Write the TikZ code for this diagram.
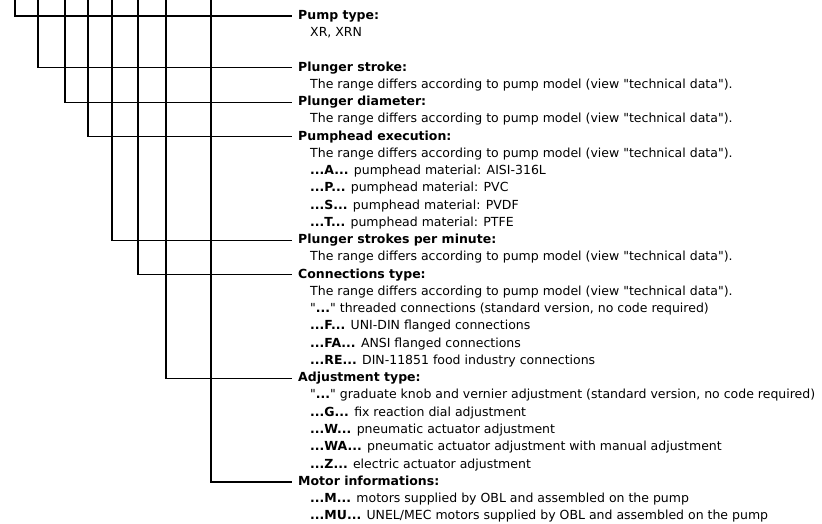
\documentclass[tikz,border=0pt]{standalone}
\usepackage{fontspec}
\setmainfont{DejaVu Sans}[Ligatures=TeXOff]
\newcommand{\rowy}[1]{16+17.26*#1}
\begin{document}
\begin{tikzpicture}[x=1pt,y=-1pt,
  hdr/.style={anchor=west, inner xsep=6pt, inner ysep=0pt, font=\fontsize{12.5}{15}\selectfont\bfseries, text height=9pt, text depth=2.5pt},
  sub/.style={anchor=west, inner sep=0pt, font=\fontsize{12.5}{15}\selectfont, text height=9pt, text depth=2.5pt},
  conn/.style={line width=1.1pt, black}]
\useasboundingbox (0,0) rectangle (822,523);
% headers
\node[hdr] (h0) at (292,{\rowy{0}})  {Pump type:};
\node[hdr] (h1) at (292,{\rowy{3}})  {Plunger stroke:};
\node[hdr] (h2) at (292,{\rowy{5}})  {Plunger diameter:};
\node[hdr] (h3) at (292,{\rowy{7}})  {Pumphead execution:};
\node[hdr] (h4) at (292,{\rowy{13}}) {Plunger strokes per minute:};
\node[hdr] (h5) at (292,{\rowy{15}}) {Connections type:};
\node[hdr] (h6) at (292,{\rowy{21}}) {Adjustment type:};
\node[hdr] (h7) at (292,{\rowy{27}}) {Motor informations:};
% sub lines
\def\rng{The range differs according to pump model (view "technical data").}
\node[sub] (s1)  at (310,{\rowy{1}})  {XR, XRN};
\node[sub] (s4)  at (310,{\rowy{4}})  {\rng};
\node[sub] (s6)  at (310,{\rowy{6}})  {\rng};
\node[sub] (s8)  at (310,{\rowy{8}})  {\rng};
\node[sub] (s9)  at (310,{\rowy{9}})  {\textbf{...A...} pumphead material: AISI-316L};
\node[sub] (s10) at (310,{\rowy{10}}) {\textbf{...P...} pumphead material: PVC};
\node[sub] (s11) at (310,{\rowy{11}}) {\textbf{...S...} pumphead material: PVDF};
\node[sub] (s12) at (310,{\rowy{12}}) {\textbf{...T...} pumphead material: PTFE};
\node[sub] (s14) at (310,{\rowy{14}}) {\rng};
\node[sub] (s16) at (310,{\rowy{16}}) {\rng};
\node[sub] (s17) at (310,{\rowy{17}}) {"\textbf{...}" threaded connections (standard version, no code required)};
\node[sub] (s18) at (310,{\rowy{18}}) {\textbf{...F...} UNI-DIN flanged connections};
\node[sub] (s19) at (310,{\rowy{19}}) {\textbf{...FA...} ANSI flanged connections};
\node[sub] (s20) at (310,{\rowy{20}}) {\textbf{...RE...} DIN-11851 food industry connections};
\node[sub] (s22) at (310,{\rowy{22}}) {"\textbf{...}" graduate knob and vernier adjustment (standard version, no code required)};
\node[sub] (s23) at (310,{\rowy{23}}) {\textbf{...G...} fix reaction dial adjustment};
\node[sub] (s24) at (310,{\rowy{24}}) {\textbf{...W...} pneumatic actuator adjustment};
\node[sub] (s25) at (310,{\rowy{25}}) {\textbf{...WA...} pneumatic actuator adjustment with manual adjustment};
\node[sub] (s26) at (310,{\rowy{26}}) {\textbf{...Z...} electric actuator adjustment};
\node[sub] (s28) at (310,{\rowy{28}}) {\textbf{...M...} motors supplied by OBL and assembled on the pump};
\node[sub] (s29) at (310,{\rowy{29}}) {\textbf{...MU...} UNEL/MEC motors supplied by OBL and assembled on the pump};
% connector tops
\coordinate (t0) at (15,0);
\coordinate (t1) at (38,0);
\coordinate (t2) at (65,0);
\coordinate (t3) at (88,0);
\coordinate (t4) at (112,0);
\coordinate (t5) at (138,0);
\coordinate (t6) at (166,0);
\coordinate (t7) at (211,0);
\foreach \i in {0,...,7} {\draw[conn] (t\i) |- (h\i.west);}
\end{tikzpicture}
\end{document}
